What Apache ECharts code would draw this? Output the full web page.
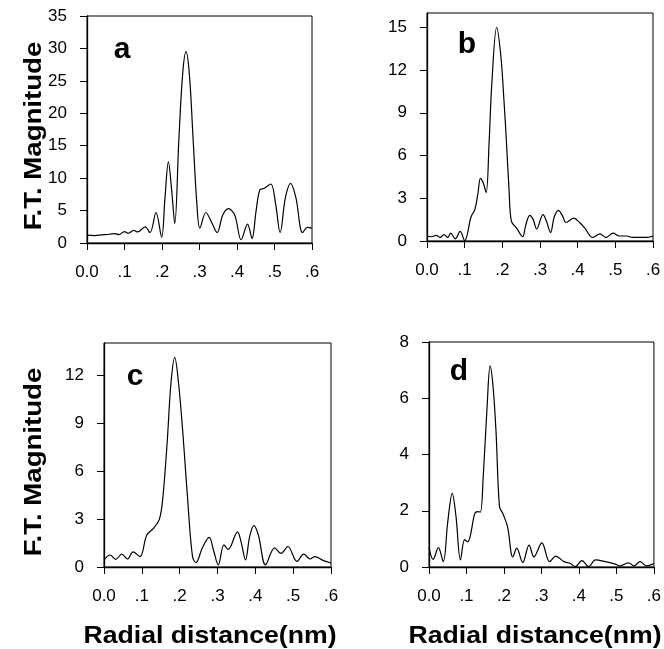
<!DOCTYPE html>
<html>
<head>
<meta charset="utf-8">
<script src="https://cdn.jsdelivr.net/npm/echarts@6/dist/echarts.min.js"></script>
<style>
  html, body { margin: 0; padding: 0; background: #fff; }
  #chart { width: 664px; height: 649px; }
</style>
</head>
<body>
<div id="chart"></div>
<script>
// radial distance (nm) / F.T. magnitude
const xA = [0, 0.02, 0.04, 0.06, 0.075, 0.085, 0.10, 0.11, 0.125, 0.135, 0.155, 0.168, 0.184, 0.199, 0.208, 0.217, 0.226, 0.234, 0.245, 0.255, 0.264, 0.273, 0.283, 0.293, 0.301, 0.317, 0.332, 0.347, 0.362, 0.377, 0.394, 0.411, 0.428, 0.44, 0.451, 0.461, 0.472, 0.49, 0.503, 0.515, 0.529, 0.543, 0.557, 0.575, 0.588, 0.6]
const yA = [1.2, 1.15, 1.25, 1.35, 1.45, 1.3, 1.75, 1.5, 1.95, 1.7, 2.5, 1.6, 4.7, 0.9, 7, 12.5, 8, 3.0, 16, 26, 29.5, 26, 16, 6, 2.3, 4.7, 3.2, 1.6, 4.3, 5.3, 4.3, 0.5, 2.9, 0.7, 5, 8.2, 8.4, 9.1, 6, 1.6, 7, 9.2, 7, 1.6, 2.4, 2.3]

const xB = [0, 0.012, 0.025, 0.035, 0.045, 0.055, 0.063, 0.075, 0.088, 0.1, 0.117, 0.127, 0.135, 0.142, 0.149, 0.157, 0.165, 0.172, 0.185, 0.196, 0.204, 0.211, 0.218, 0.224, 0.238, 0.254, 0.262, 0.273, 0.282, 0.291, 0.308, 0.317, 0.328, 0.338, 0.349, 0.359, 0.369, 0.39, 0.405, 0.419, 0.44, 0.459, 0.475, 0.494, 0.51, 0.53, 0.545, 0.57, 0.585, 0.6]
const yB = [0.35, 0.3, 0.4, 0.25, 0.45, 0.25, 0.55, 0.15, 0.67, 0.02, 1.7, 2.2, 3.3, 4.4, 4.1, 3.4, 7, 11, 15.0, 13, 10, 6.9, 3.5, 1.4, 0.9, 0.3, 1.1, 1.8, 1.5, 0.85, 1.85, 1.4, 0.6, 1.7, 2.15, 1.8, 1.3, 1.6, 1.3, 0.9, 0.25, 0.5, 0.25, 0.55, 0.35, 0.35, 0.25, 0.25, 0.25, 0.35]

const xC = [0, 0.016, 0.031, 0.047, 0.062, 0.077, 0.095, 0.113, 0.13, 0.146, 0.155, 0.167, 0.177, 0.187, 0.197, 0.209, 0.223, 0.234, 0.243, 0.26, 0.278, 0.29, 0.302, 0.317, 0.328, 0.353, 0.362, 0.374, 0.385, 0.396, 0.408, 0.427, 0.451, 0.468, 0.486, 0.51, 0.528, 0.545, 0.557, 0.58, 0.6]
const yC = [0.44, 0.75, 0.48, 0.8, 0.5, 0.95, 0.65, 2.0, 2.4, 2.96, 4.2, 7.8, 11.5, 13.1, 11.5, 8.2, 3.6, 0.65, 0.27, 1.2, 1.85, 1.0, 0.13, 1.38, 1.1, 2.2, 1.6, 0.44, 1.9, 2.58, 2.0, 0.13, 1.2, 0.85, 1.28, 0.35, 0.8, 0.5, 0.65, 0.4, 0.25]

const xD = [0, 0.011, 0.025, 0.038, 0.05, 0.062, 0.072, 0.084, 0.095, 0.103, 0.11, 0.122, 0.13, 0.137, 0.145, 0.155, 0.163, 0.171, 0.179, 0.188, 0.197, 0.21, 0.219, 0.223, 0.234, 0.25, 0.267, 0.28, 0.301, 0.322, 0.338, 0.36, 0.377, 0.39, 0.408, 0.426, 0.444, 0.47, 0.497, 0.51, 0.532, 0.547, 0.563, 0.58, 0.6]
const yD = [0.69, 0.27, 0.69, 0.19, 1.6, 2.62, 1.8, 0.25, 0.97, 0.9, 1.1, 1.9, 1.97, 1.95, 3.3, 5.7, 7.15, 6.4, 4.76, 2.15, 1.9, 1.4, 0.5, 0.36, 0.67, 0.16, 0.78, 0.36, 0.86, 0.19, 0.39, 0.19, 0.13, 0.01, 0.23, 0.01, 0.25, 0.19, 0.1, 0.04, 0.15, 0.04, 0.19, 0.04, 0.12]

const xTicks = [0, 0.1, 0.2, 0.3, 0.4, 0.5, 0.6]
const yMax = [35, 16, 14, 8]
const yStep = [5, 3, 3, 2]
const panelNames = ['a', 'b', 'c', 'd']
const yTitle = 'F.T. Magnitude'
const xTitle = 'Radial distance(nm)'

const font = '"Liberation Sans", Arial, sans-serif'
const grids = [
  { left: 87, top: 16, width: 225, height: 227 },
  { left: 427, top: 13, width: 226, height: 228 },
  { left: 104, top: 343, width: 227, height: 224 },
  { left: 429, top: 342, width: 227, height: 225 }
]
const letterPos = [[122, 50], [467, 45], [135, 377], [459, 372]]
const xs = [xA, xB, xC, xD]
const ys = [yA, yB, yC, yD]

function label (text, x, y, size, opts) {
  return Object.assign({
    type: 'text',
    x: x,
    y: y,
    style: { text: text, font: 'bold ' + size + 'px ' + font, fill: '#000', align: 'center', verticalAlign: 'middle' }
  }, opts)
}

const chart = echarts.init(document.getElementById('chart'))
chart.setOption({
  animation: false,
  grid: grids.map(g => Object.assign({ show: true, borderColor: '#000', borderWidth: 1, backgroundColor: 'transparent' }, g)),
  xAxis: grids.map((g, i) => ({
    type: 'value',
    gridIndex: i,
    min: xTicks[0],
    max: xTicks[xTicks.length - 1],
    interval: 0.1,
    splitLine: { show: false },
    axisLine: { onZero: false, lineStyle: { color: '#000', width: 1.3 } },
    axisTick: { show: true, length: 7, lineStyle: { color: '#000' } },
    axisLabel: {
      margin: 21,
      color: '#000',
      fontSize: 17,
      fontFamily: font,
      formatter: v => v === 0 ? '0.0' : '.' + Math.round(v * 10)
    }
  })),
  yAxis: grids.map((g, i) => ({
    type: 'value',
    gridIndex: i,
    min: 0,
    max: yMax[i],
    interval: yStep[i],
    splitLine: { show: false },
    axisLine: { show: true, lineStyle: { color: '#000', width: 1.3 } },
    axisTick: { show: true, length: 7, lineStyle: { color: '#000' } },
    axisLabel: {
      margin: 20,
      color: '#000',
      fontSize: 17,
      fontFamily: font,
      showMaxLabel: yMax[i] % yStep[i] === 0
    }
  })),
  series: xs.map((xv, i) => ({
    type: 'line',
    xAxisIndex: i,
    yAxisIndex: i,
    data: xv.map((x, k) => [x, ys[i][k]]),
    smooth: 0.35,
    showSymbol: false,
    lineStyle: { color: '#000', width: 1.2 }
  })),
  graphic: [
    ...panelNames.map((n, i) => label(n, letterPos[i][0], letterPos[i][1], 30)),
    label(yTitle, 34, 136, 24, { rotation: Math.PI / 2, scaleX: 1.15 }),
    label(yTitle, 34, 462, 24, { rotation: Math.PI / 2, scaleX: 1.15 }),
    label(xTitle, 210, 636, 24, { scaleX: 1.11 }),
    label(xTitle, 535, 636, 24, { scaleX: 1.11 })
  ]
})
</script>
</body>
</html>
